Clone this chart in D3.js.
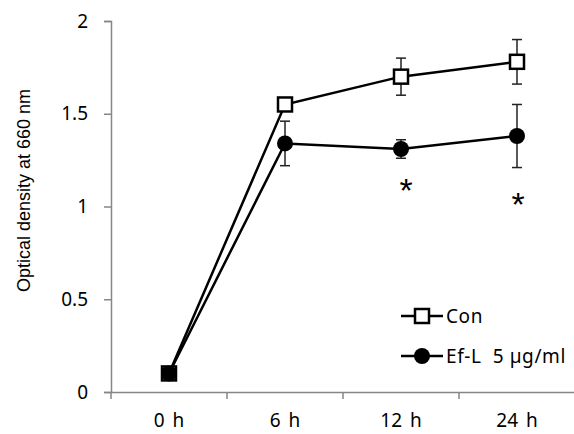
<!DOCTYPE html>
<html><head><meta charset="utf-8">
<script src="https://cdn.jsdelivr.net/npm/d3@7/dist/d3.min.js"></script>
<style>body{margin:0;background:#fff}svg{display:block}</style>
</head><body>
<script>
const categories = ["0 h", "6 h", "12 h", "24 h"];
const conValues = [0.10, 1.55, 1.70, 1.78];
const conErrors = [0.0, 0.0, 0.10, 0.12];
const eflValues = [0.10, 1.34, 1.31, 1.38];
const eflErrors = [0.0, 0.12, 0.05, 0.17];
const significant = [false, false, true, true];
const yTicks = [0, 0.5, 1, 1.5, 2];
const seriesNames = ["Con", "Ef-L  5 µg/ml"];

const W = 574, H = 434;
const svg = d3.select("body").append("svg").attr("width", W).attr("height", H);
const x0 = 111, x1 = 575, yTop = 21, yBot = 392;
const x = d3.scaleBand().domain(categories).range([x0, x1]);
const y = d3.scaleLinear().domain([0, 2]).range([yBot, yTop]);
const axisColor = "#868686";
const tickFont = "'Noto Sans', 'Open Sans', sans-serif";

// Y axis
const ya = svg.append("g").attr("transform", `translate(${x0},0)`)
  .call(d3.axisLeft(y).tickValues(yTicks).tickSize(7).tickPadding(16).tickFormat(d => String(d)));
ya.attr("font-size", null).attr("font-family", null);
ya.select(".domain").attr("stroke", axisColor).attr("stroke-width", 1.5);
ya.selectAll(".tick line").attr("stroke", axisColor).attr("stroke-width", 1.5);
ya.selectAll(".tick text").style("font-size", "19px").style("font-family", tickFont).attr("fill", "#000");

// X axis
const xa = svg.append("g").attr("transform", `translate(0,${yBot})`)
  .call(d3.axisBottom(x).tickSize(0).tickPadding(22));
xa.attr("font-size", null).attr("font-family", null);
xa.select(".domain").attr("stroke", axisColor).attr("stroke-width", 1.5);
xa.selectAll(".tick text").style("font-size", "19px").style("font-family", tickFont)
  .style("word-spacing", "3px").attr("fill", "#000");
// category boundary ticks
svg.append("g").selectAll("line").data(d3.range(categories.length + 1)).join("line")
  .attr("x1", i => x0 + i * x.bandwidth()).attr("x2", i => x0 + i * x.bandwidth())
  .attr("y1", yBot).attr("y2", yBot + 7).attr("stroke", axisColor).attr("stroke-width", 1.5);

// Y label
svg.append("text").attr("transform", `translate(30,${(yTop + yBot) / 2 - 16}) rotate(-90)`)
  .attr("text-anchor", "middle").style("font-size", "18px")
  .style("font-family", "'Liberation Sans', Arial, sans-serif").text("Optical density at 660 nm");

const cx = d => x(d) + x.bandwidth() / 2;

function errorBars(vals, errs) {
  const g = svg.append("g").attr("stroke", "#222").attr("stroke-width", 1.5);
  categories.forEach((c, i) => {
    if (!errs[i]) return;
    const X = cx(c);
    g.append("line").attr("x1", X).attr("x2", X).attr("y1", y(vals[i] + errs[i])).attr("y2", y(vals[i] - errs[i]));
    [vals[i] + errs[i], vals[i] - errs[i]].forEach(v =>
      g.append("line").attr("x1", X - 5).attr("x2", X + 5).attr("y1", y(v)).attr("y2", y(v)));
  });
}
errorBars(conValues, conErrors);
errorBars(eflValues, eflErrors);

const line = d3.line().x((d, i) => cx(categories[i])).y(d => y(d));
svg.append("path").datum(conValues).attr("d", line).attr("fill", "none").attr("stroke", "#000").attr("stroke-width", 2.5);
svg.append("path").datum(eflValues).attr("d", line).attr("fill", "none").attr("stroke", "#000").attr("stroke-width", 2.5);

svg.append("g").selectAll("rect").data(conValues).join("rect")
  .attr("x", (d, i) => cx(categories[i]) - 7).attr("y", d => y(d) - 7)
  .attr("width", 14).attr("height", 14).attr("fill", "#fff").attr("stroke", "#000").attr("stroke-width", 2.5);
svg.append("g").selectAll("circle").data(eflValues).join("circle")
  .attr("cx", (d, i) => cx(categories[i])).attr("cy", d => y(d)).attr("r", 8).attr("fill", "#000");

// significance asterisks
svg.append("g").selectAll("text").data(categories.filter((c, i) => significant[i])).join("text")
  .attr("x", c => cx(c) + (c === "12 h" ? 5 : 1))
  .attr("y", c => y(eflValues[categories.indexOf(c)] - eflErrors[categories.indexOf(c)]) + (c === "12 h" ? 44 : 48))
  .attr("text-anchor", "middle").style("font-size", "34px").style("font-family", "'Liberation Sans', Arial, sans-serif").text("*");

// legend
const lg = svg.append("g");
[0, 1].forEach(i => {
  const ly = 316 + i * 40;
  lg.append("line").attr("x1", 401).attr("x2", 443).attr("y1", ly).attr("y2", ly).attr("stroke", "#000").attr("stroke-width", 2.5);
  if (i === 0) lg.append("rect").attr("x", 415).attr("y", ly - 7).attr("width", 14).attr("height", 14)
    .attr("fill", "#fff").attr("stroke", "#000").attr("stroke-width", 2.5);
  else lg.append("circle").attr("cx", 422).attr("cy", ly).attr("r", 8).attr("fill", "#000");
  lg.append("text").attr("x", 446).attr("y", ly + 7).style("font-size", "19px").style("font-family", tickFont)
    .style("letter-spacing", "0.6px").style("white-space", "pre").text(seriesNames[i]);
});
</script>
</body></html>
